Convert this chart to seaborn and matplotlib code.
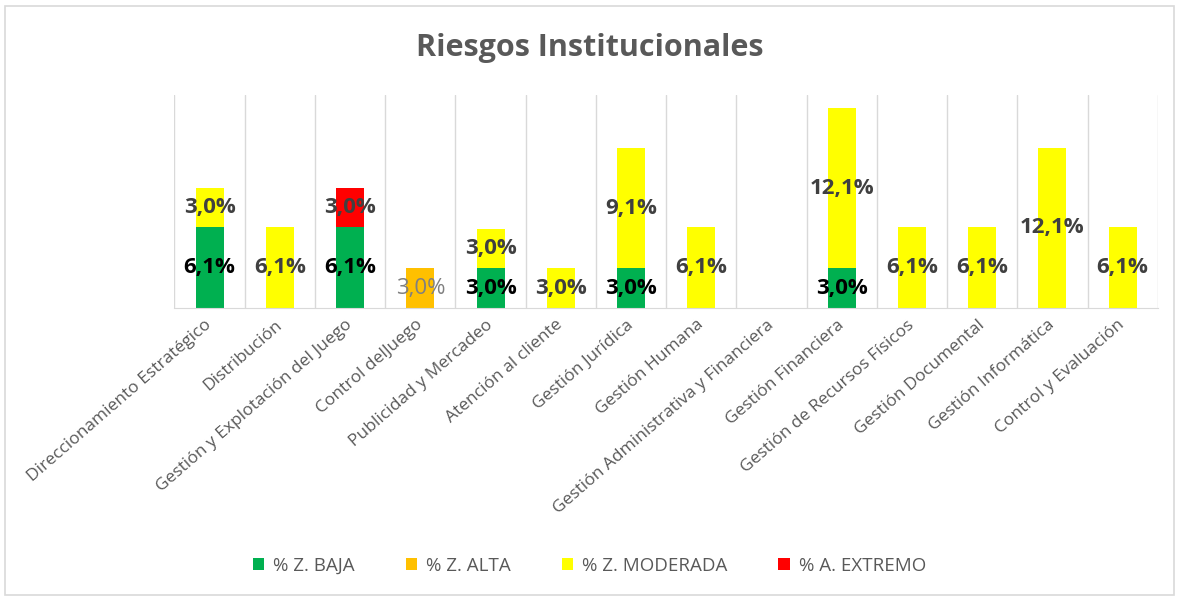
import numpy as np
import matplotlib.pyplot as plt
import matplotlib.transforms as mtransforms
from matplotlib.patches import Rectangle, Patch
import seaborn as sns

# ── Data ──────────────────────────────────────────────────────────────────────
CATEGORIES = [
    "Direccionamiento Estratégico", "Distribución",
    "Gestión y Explotación del Juego", "Control delJuego",
    "Publicidad y Mercadeo", "Atención al cliente", "Gestión Jurídica",
    "Gestión Humana", "Gestión Administrativa y Financiera",
    "Gestión Financiera", "Gestión de Recursos Físicos",
    "Gestión Documental", "Gestión Informática", "Control y Evaluación",
]
BAJA     = [6.1, 0.0, 6.1, 0.0, 3.0, 0.0, 3.0, 0.0, 0.0, 3.0, 0.0, 0.0, 0.0, 0.0]
ALTA     = [0.0, 0.0, 0.0, 3.0, 0.0, 0.0, 0.0, 0.0, 0.0, 0.0, 0.0, 0.0, 0.0, 0.0]
MODERADA = [3.0, 6.1, 0.0, 0.0, 3.0, 3.0, 9.1, 6.1, 0.0, 12.1, 6.1, 6.1, 12.1, 6.1]
EXTREMO  = [0.0, 0.0, 3.0, 0.0, 0.0, 0.0, 0.0, 0.0, 0.0, 0.0, 0.0, 0.0, 0.0, 0.0]

SERIES = [
    ("% Z. BAJA",      BAJA,     "#00b050", "#000000", "bold"),
    ("% Z. ALTA",      ALTA,     "#ffc000", "#808080", "normal"),
    ("% Z. MODERADA",  MODERADA, "#ffff00", "#404040", "bold"),
    ("% A. EXTREMO",   EXTREMO,  "#ff0000", "#404040", "bold"),
]

# ── Style ─────────────────────────────────────────────────────────────────────
sns.set_style("white")
plt.rcParams["font.family"] = ["Open Sans", "DejaVu Sans"]
TXT = "#595959"

fig = plt.figure(figsize=(11.79, 5.97), dpi=100)
ax = fig.add_axes([0.148, 0.484, 0.834, 0.357])

# stacked bars, one series at a time
bottom = np.zeros(len(CATEGORIES))
for name, vals, color, tcolor, weight in SERIES:
    vals = np.array(vals)
    sns.barplot(x=CATEGORIES, y=vals, bottom=bottom, color=color,
                width=0.4, saturation=1, ax=ax, linewidth=0)
    cont = ax.containers[-1]
    labels = [f"{v:.1f}".replace(".", ",") + "%" if v > 0 else "" for v in vals]
    ax.bar_label(cont, labels=labels, label_type="center",
                 fontsize=16, color=tcolor, fontweight=weight)
    bottom = bottom + vals

ax.set_ylim(0, 16.1)
ax.set_xlim(-0.5, len(CATEGORIES) - 0.5)
ax.set_yticks([])
ax.set_ylabel("")

# category separators
ax.set_xticks(np.arange(-0.5, len(CATEGORIES)), minor=True)
ax.grid(True, which="minor", axis="x", color="#d9d9d9", lw=1)
ax.tick_params(axis="x", which="both", length=0)
for s in ["top", "left", "right"]:
    ax.spines[s].set_visible(False)
ax.spines["bottom"].set_color("#d9d9d9")

ax.set_xticks(range(len(CATEGORIES)))
offset = mtransforms.ScaledTranslation(0.0, -0.1, fig.dpi_scale_trans)
ax.set_xticklabels(CATEGORIES, rotation=41, ha="right", va="center",
                   rotation_mode="anchor", fontsize=12.5, color=TXT)
for lbl in ax.get_xticklabels():
    lbl.set_transform(lbl.get_transform() + offset)

fig.text(0.5, 0.92, "Riesgos Institucionales", ha="center", va="center",
         fontsize=22, fontweight="bold", color=TXT)

handles = [Patch(facecolor=c, edgecolor="none", label=n) for n, _, c, _, _ in SERIES]
fig.legend(handles=handles, loc="center", bbox_to_anchor=(0.5, 0.052), ncol=4,
           frameon=False, fontsize=13.5, labelcolor=TXT, handlelength=0.6,
           handleheight=0.6, handletextpad=0.5, columnspacing=2.7)

# chart border
fig.patches.append(Rectangle((0.004, 0.004), 0.992, 0.986, transform=fig.transFigure,
                             fill=False, edgecolor="#d9d9d9", lw=1.2))

fig.savefig("out.png", dpi=100)
